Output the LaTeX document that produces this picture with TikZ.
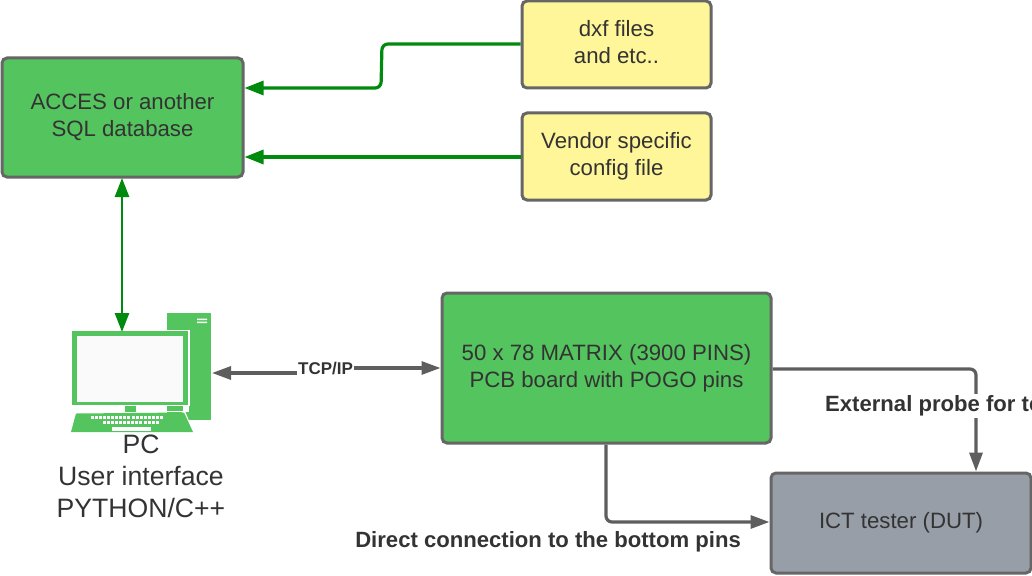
\documentclass[tikz,border=0pt]{standalone}
\usepackage{fontspec}
\setmainfont{Liberation Sans}
\usetikzlibrary{arrows.meta}
\definecolor{boxgreen}{HTML}{54C45E}
\definecolor{boxyellow}{HTML}{FFF599}
\definecolor{boxgrey}{HTML}{979EA8}
\definecolor{edgegrey}{HTML}{666666}
\definecolor{linkgreen}{HTML}{008A0E}
\definecolor{linkgrey}{HTML}{5E5E5E}
\definecolor{txt}{HTML}{333333}
\tikzset{
 x=1pt,y=-1pt,
 boxbase/.style={draw=edgegrey,line width=3pt,rounded corners=5pt,align=center,inner sep=0pt,anchor=north west,text=txt,text depth=5pt,font=\fontsize{22.2}{27}\selectfont},
 greenlink/.style={draw=linkgreen,line width=3.2pt,rounded corners=6pt,-{Triangle[length=19pt,width=14pt]}},
 greenboth/.style={draw=linkgreen,line width=2.7pt,{Triangle[length=19pt,width=14pt]}-{Triangle[length=19pt,width=14pt]}},
 greylink/.style={draw=linkgrey,line width=3.2pt,rounded corners=6pt,-{Triangle[length=19pt,width=13pt]}},
 greyboth/.style={draw=linkgrey,line width=3.2pt,{Triangle[length=19pt,width=13pt]}-{Triangle[length=19pt,width=13pt]}},
 linklabel/.style={font=\bfseries\fontsize{22.1}{26}\selectfont,text=txt,inner sep=2pt,fill=white},
 icon/.style={fill=boxgreen,draw=none},
 iconw/.style={fill=white,draw=none},
}
\begin{document}
\begin{tikzpicture}
\useasboundingbox (0,0) rectangle (1032,575);
% boxes
\node[boxbase,fill=boxgreen,minimum width=241pt,minimum height=119pt] (acces) at (0.5,56.5) {ACCES or another\\SQL database};
\node[boxbase,fill=boxyellow,minimum width=189pt,minimum height=87pt] (dxf) at (520.5,-0.5) {dxf files\\and etc..};
\node[boxbase,fill=boxyellow,minimum width=189pt,minimum height=87pt] (vendor) at (520.5,111.5) {Vendor specific\\config file};
\node[boxbase,fill=boxgreen,minimum width=329pt,minimum height=150pt] (matrix) at (440.5,291.5) {50 x 78 MATRIX (3900 PINS)\\PCB board with POGO pins};
\node[boxbase,fill=boxgrey,minimum width=260pt,minimum height=100pt] (ict) at (769.5,471.5) {ICT tester (DUT)};
% PC icon
\fill[icon] (167,313) rectangle (211,420);
\fill[iconw] (197,318.5) rectangle (207,320) (197,321.5) rectangle (207,323);
\fill[iconw] (71,330) rectangle (189.5,406);
\fill[icon] (72,331) rectangle (188,405);
\fill[white!98!black] (77,336) rectangle (183,402);
\fill[iconw] (167,406) rectangle (189,412);
\fill[icon] (125,406) rectangle (136,412);
\fill[iconw] (185,411) -- (194,433) -- (189,433) -- (167,420) -- cycle;
\fill[icon] (167,406) rectangle (183,411);
\fill[icon] (76,413.5) -- (184,412.5) -- (193,432) -- (71,432) -- cycle;
\foreach \i in {0,...,17} \fill[iconw] ({91+\i*4.05},416) rectangle ({94+\i*4.05},418.5);
\foreach \i in {0,...,13} \fill[iconw] ({103+\i*4.05},421) rectangle ({106+\i*4.05},423.5);
\fill[iconw] (112,427) rectangle (151,431);
\node[inner sep=0pt,text=txt,font=\fontsize{26.6}{32}\selectfont,align=center,anchor=north] (pc) at (141,434.5) {PC\\User interface\\PYTHON/C++};
\coordinate (pctop) at (122,332);
\coordinate (pcleft) at (212,373);
\coordinate (pcmid) at (326,373);
\coordinate (accesbot) at (122,178);
% connectors
\draw[greenlink] (dxf.west |- 0,44) -- (382,44) -- (381,88) -- (acces.east |- 0,88);
\draw[greenlink] (vendor.west |- 0,157) -- (acces.east |- 0,157);
\draw[greenboth] (accesbot) -- (pctop);
\draw[greyboth] (pcleft) -- (pcmid) |- (matrix.west |- 0,368);
\node[font=\bfseries\fontsize{17}{20}\selectfont,text=txt,fill=white,inner sep=1pt] (tcp) at (325.5,368.5) {TCP/IP};
\draw[greylink] (matrix.east |- 0,369) -- (976,369) -- (ict.north -| 976,0);
\draw[greylink] (matrix.south -| 606,0) -- (606,522) -- (ict.west |- 0,522);
% labels
\node[linklabel,anchor=west] (ext) at (823,406) {External probe for te};
\node[linklabel,anchor=east,fill=none] (dir) at (743,541.5) {Direct connection to the bottom pins};
\end{tikzpicture}
\end{document}
